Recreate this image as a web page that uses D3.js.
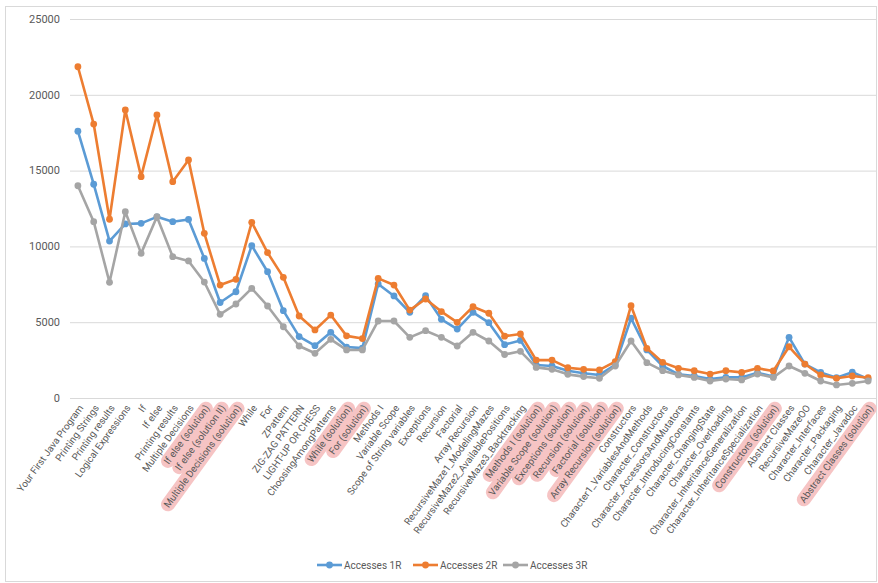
<!DOCTYPE html>
<html lang="en">
<head>
<meta charset="UTF-8">
<title>Accesses</title>
<script src="https://d3js.org/d3.v7.min.js"></script>
<style>
  body { margin: 0; background: #fff; }
  text { font-family: Roboto, "Liberation Sans", sans-serif; fill: #595959; }
</style>
</head>
<body>
<svg width="878" height="583"></svg>
<script>
let categories = ['Your First Java Program', 'Printing Strings', 'Printing results', 'Logical Expressions', 'If', 'If else',
  'Printing results', 'Multiple Decisions', 'If else (solution)', 'If else (solution II)', 'Multiple Decisions (solution)',
  'While', 'For', 'ZPattern', 'ZIG-ZAG PATTERN', 'LIGHT-UP OR CHESS', 'ChoosingAmongPatterns', 'While (solution)',
  'For (solution)', 'Methods I', 'Variable Scope', 'Scope of String variables', 'Exceptions', 'Recursion', 'Factorial',
  'Array Recursion', 'RecursiveMaze1_ModelingMazes', 'RecursiveMaze2_AvailablePositions', 'RecursiveMaze3_Backtracking',
  'Methods I (solution)', 'Variable Scope (solution)', 'Exceptions (solution)', 'Recursion (solution)', 'Factorial (solution)',
  'Array Recursion (solution)', 'Constructors', 'Character1_VariablesAndMethods', 'Character_Constructors',
  'Character_AccessorsAndMutators', 'Character_IntroducingConstants', 'Character_ChangingState', 'Character_Overloading',
  'Character_InheritanceGeneralization', 'Character_InheritanceSpecialization', 'Constructors (solution)', 'Abstract Classes',
  'RecursiveMazeOO', 'Character_Interfaces', 'Character_Packaging', 'Character_Javadoc', 'Abstract Classes (solution)']

// labels shown with a pink highlight
let highlighted = [8, 9, 10, 17, 18, 29, 30, 31, 32, 33, 34, 44, 50]

let accesses1R = [17600, 14100, 10350, 11480, 11520, 11950, 11630, 11780, 9210, 6300, 7010, 10050, 8330, 5760, 4050,
  3450, 4330, 3360, 3290, 7520, 6730, 5650, 6750, 5190, 4550, 5650, 4970, 3520, 3800, 2180, 2110, 1800, 1630, 1520,
  2180, 5260, 3170, 2110, 1560, 1450, 1250, 1360, 1360, 1670, 1410, 4000, 2240, 1690, 1340, 1700, 1250]
let accesses2R = [21850, 18070, 11790, 19000, 14600, 18670, 14270, 15700, 10860, 7450, 7830, 11590, 9590, 7960, 5410,
  4490, 5470, 4100, 3920, 7890, 7450, 5800, 6530, 5700, 4990, 6020, 5590, 4080, 4220, 2500, 2500, 2000, 1890, 1850,
  2400, 6090, 3280, 2350, 1960, 1800, 1580, 1800, 1690, 1960, 1780, 3380, 2240, 1520, 1300, 1450, 1340]
let accesses3R = [14000, 11630, 7630, 12290, 9540, 11960, 9320, 9040, 7650, 5520, 6200, 7230, 6070, 4700, 3430,
  2950, 3870, 3170, 3170, 5080, 5080, 4000, 4440, 4000, 3430, 4330, 3760, 2870, 3080, 2020, 1890, 1560, 1410, 1300,
  2110, 3760, 2330, 1800, 1520, 1360, 1120, 1250, 1190, 1580, 1360, 2110, 1630, 1120, 860, 970, 1120]

let yTicks = [0, 5000, 10000, 15000, 20000, 25000]
let seriesNames = ['Accesses 1R', 'Accesses 2R', 'Accesses 3R']
let colors = ['#5b9bd5', '#ed7d31', '#a5a5a5']
let seriesValues = [accesses1R, accesses2R, accesses3R]

let svg = d3.select('svg')

svg.append('rect')
  .attr('x', 5.5).attr('y', 6.5).attr('width', 871).attr('height', 575)
  .attr('fill', '#fff').attr('stroke', '#d9d9d9')

let x = d3.scalePoint().domain(d3.range(categories.length)).range([70, 876]).padding(0.5)
let y = d3.scaleLinear().domain([0, 25000]).range([398, 19])

// gridlines + y labels
let grid = svg.append('g')
grid.selectAll('line').data(yTicks).join('line')
  .attr('x1', 70).attr('x2', 876)
  .attr('y1', d => y(d) + 0.5).attr('y2', d => y(d) + 0.5)
  .attr('stroke', '#d9d9d9').attr('stroke-width', 1)
grid.selectAll('text').data(yTicks).join('text')
  .attr('x', 60).attr('y', d => y(d))
  .attr('dy', '0.35em').attr('text-anchor', 'end')
  .style('font-size', '11px')
  .text(d => d)

// x labels
let labels = svg.append('g').selectAll('g').data(categories).join('g')
  .attr('transform', (d, i) => `translate(${x(i) + 3},${406}) rotate(-54)`)
labels.append('text')
  .attr('text-anchor', 'end').attr('dy', '0.35em')
  .style('font-size', '9.8px')
  .text(d => d)
labels.filter((d, i) => highlighted.includes(i)).each(function () {
  let g = d3.select(this)
  let b = g.select('text').node().getBBox()
  g.insert('rect', 'text')
    .attr('x', b.x - 4).attr('y', b.y - 1)
    .attr('width', b.width + 8).attr('height', b.height + 2)
    .attr('rx', (b.height + 2) / 2)
    .attr('fill', '#f6c4c4')
})

// lines
let line = d3.line().x((d, i) => x(i)).y(d => y(d))
let series = svg.append('g').selectAll('g').data(seriesValues).join('g')
series.append('path')
  .attr('d', line)
  .attr('fill', 'none')
  .attr('stroke', (d, i) => colors[i])
  .attr('stroke-width', 2.6)
  .attr('stroke-linejoin', 'round')
series.each(function (vals, si) {
  d3.select(this).selectAll('circle').data(vals).join('circle')
    .attr('cx', (d, i) => x(i)).attr('cy', d => y(d))
    .attr('r', 3.4)
    .attr('fill', colors[si])
})

// legend
let legendX = [317, 413, 503]
let legend = svg.append('g').selectAll('g').data(seriesNames).join('g')
  .attr('transform', (d, i) => `translate(${legendX[i]},565)`)
legend.append('line')
  .attr('x1', 0).attr('x2', 25)
  .attr('stroke', (d, i) => colors[i]).attr('stroke-width', 2.6)
legend.append('circle')
  .attr('cx', 12.5).attr('r', 3.4)
  .attr('fill', (d, i) => colors[i])
legend.append('text')
  .attr('x', 27).attr('dy', '0.35em')
  .style('font-size', '10px')
  .text(d => d)
</script>
</body>
</html>
